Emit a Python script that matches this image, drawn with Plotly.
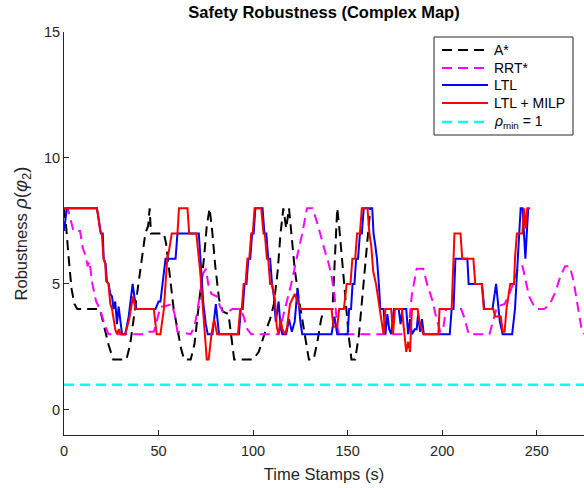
import plotly.graph_objects as go

# ---- data ----
astar_t = [0, 1, 2.5, 4, 5.5, 7, 19, 21, 23.5, 26, 33, 35, 37.5, 39.5, 41.5, 43, 44.5, 45.3, 46, 52.8,
           54, 56, 58, 60, 62, 63.5, 67, 69, 71, 72.5, 74, 75.5, 77, 78.5, 80, 82, 84, 87, 88.5, 90,
           100, 103, 106, 109, 111, 113, 114.5, 116, 117.5, 119, 120.5, 122, 124, 126, 128, 129.5, 132,
           134, 136, 137.5, 142, 143.3, 144.5, 145.5, 147, 148.5, 150.5, 152, 154, 156, 158, 160, 162]
astar_v = [8, 7.4, 6, 4.8, 4.2, 4, 4, 3.4, 2.6, 2, 2, 2.6, 4, 5.2, 6.3, 7, 7.3, 8, 7, 7,
           6.6, 5.2, 4, 3.2, 2.4, 2, 2, 2.6, 4, 4.8, 6, 7.3, 8, 7, 5.7, 4.4, 3.9, 3.8, 3, 2,
           2, 2.3, 3, 3.6, 4.2, 5.5, 7, 8, 7.2, 8, 6.8, 5.6, 4.5, 3.6, 2.6, 2, 2,
           2.7, 3.6, 4, 4, 6, 8, 7.3, 6, 4.5, 3, 2, 2, 3, 4.6, 6.3, 8]

rrt_t = [0, 2, 5, 8.5, 10, 11.5, 12.5, 13.5, 15, 17, 19, 21, 23.5, 42, 44, 47.5, 49, 51, 53, 57,
         58.5, 60, 67, 69, 70.5, 72, 73.5, 75, 76.5, 78, 81, 82.5, 84, 87, 89, 93.5, 95, 97, 99,
         113.5, 115.5, 118.5, 120.5, 123, 126, 128.5, 131.5, 134, 136, 138, 140, 141.5, 143, 144.5,
         145.5, 182, 184, 186.5, 190, 192, 195, 197, 199, 200.5, 202, 210, 212, 214, 225, 227, 229,
         233, 235, 237, 239, 240.5, 242.5, 244, 246, 248, 250, 254, 257, 260, 262.5, 265, 267.5,
         269.5, 271.5, 273.5, 275]
rrt_v = [8, 8, 7.1, 7.1, 6.4, 6.1, 5.7, 5.9, 5.0, 4.3, 4.0, 3.5, 3, 3, 3.1, 3.1, 3.5, 4.1, 4.1, 4.2,
         3.8, 3.1, 3, 3.3, 3.9, 4.7, 5.4, 5.6, 4.9, 4.6, 4.5, 4.1, 3.9, 3.9, 4.0, 4.0, 3.7, 3.2, 3,
         3, 3.6, 4.5, 5.1, 6, 7, 8, 8, 7.4, 6.8, 6.3, 5.8, 5.3, 4.6, 3.3,
         3, 3, 4.6, 5.6, 5.6, 5.0, 4.3, 3.6, 3.1, 3.2, 4, 4, 3.6, 3, 3, 3.6, 4.1,
         4.2, 4.5, 4.9, 5.4, 5.7, 5.7, 5.2, 4.5, 4.2, 4.0, 4.0, 4.2, 4.7, 5.3, 5.7, 5.7,
         5.1, 4.2, 3.3, 3.0]

ltl_t = [0, 1.5, 17.4, 18.3, 19.5, 20.5, 21, 22, 22.7, 23.6, 24.5, 25.4, 26.2, 27.1, 28, 28.9, 29.8,
         30.7, 32.4, 34.2, 35.5, 36.3, 37.2, 38.3, 48.4, 50, 51, 52.5, 53.7, 59, 60, 71.3, 72.5,
         73.7, 75, 76, 78.5, 80.3, 82, 92.5, 93.5, 94.5, 95.5, 96.5, 97.5, 98.5, 99.5, 100.3, 101.2,
         105, 106, 107, 108, 109, 110, 111, 112, 113.5, 114.5, 115.5, 117.5, 119, 120.5, 122, 123.5,
         125, 126, 141.5, 143, 144.5, 150, 150.8, 151.8, 152.6, 153.6, 154.5, 155.5, 156.5, 157.5,
         158.5, 163, 163.7, 164.7, 165.5, 166.5, 167.3, 169, 170, 171, 172, 173, 174.5, 177, 178,
         179, 181, 182, 183, 184, 185.5, 186.5, 187.3, 188.3, 189.3, 190.3, 204, 205, 206, 207,
         213.3, 214, 221, 222.3, 226.6, 228.5, 230.5, 232, 237, 238.5, 239.5, 240.5, 241.5, 242.5,
         244, 245.5]
ltl_v = [7.1, 8, 8, 7.5, 7, 7, 6, 5.8, 5.1, 5, 4.6, 4.5, 4, 4.3, 3.4, 4.1, 3.4,
         3, 3, 3.7, 4.5, 5.0, 4.5, 4, 4, 4.3, 4.3, 5.2, 6, 6, 7, 7, 5.5,
         4.2, 3.4, 3, 3, 4.2, 3, 3, 4, 4, 5, 5, 6, 6, 7, 7, 8,
         8, 7, 7, 6, 6, 5, 4.5, 3.5, 4.3, 3.3, 3, 3, 3.6, 3.1, 3.5, 4.8,
         3.5, 3, 3, 3.7, 3, 3, 4, 4, 5, 5, 6, 6, 7, 7,
         8, 8, 7, 6.5, 6, 5, 4, 4, 3, 3.8, 3.2, 3, 4, 4, 3.4,
         4, 4, 3, 3.6, 3, 3.2, 3.2, 3.8, 3.1, 3.6, 3, 3, 4, 4, 6,
         6, 5, 5, 4, 4, 5, 3.5, 3, 3, 4, 5.5, 7, 8, 8,
         6, 8]

milp_t = [0, 17.4, 18.3, 19.1, 20, 20.9, 21.8, 22.3, 23.5, 24.5, 25.4, 26.2, 27.1, 28, 29, 30, 32.4,
          34.5, 36.5, 37.8, 47.5, 49, 51, 52.8, 54.6, 55.5, 57, 60, 60.8, 65.3, 66.2, 70, 72, 73.5,
          74.5, 75.5, 76.5, 78, 79.4, 81, 92, 93.2, 94, 95, 96, 97, 98, 99, 99.8, 100.8, 104.3,
          105.5, 106.2, 107.3, 108, 109, 110, 111.5, 112.5, 113.5, 114.5, 115.5, 117, 118, 119.5,
          122, 123.5, 125, 141.5, 142.5, 144.5, 145.5, 148, 149.5, 151.5, 152.5, 154, 155, 156.5,
          157.5, 160.5, 161.5, 162.5, 163.5, 165, 166, 167, 168, 169, 170, 173, 174, 175, 178.7,
          180, 181, 182, 183, 184, 187, 188, 189, 190, 198, 198.6, 205, 206.5, 209.7, 210.6, 216.5,
          217.5, 221, 222, 227, 228, 231, 232, 233, 234, 236, 238, 238.5, 239.5, 242.4, 243.3, 244,
          245, 246.5]
milp_v = [8, 8, 7.6, 7.1, 7, 6, 5.8, 5.1, 5, 4.2, 4, 3.6, 3.2, 3, 3.2, 3, 3,
          3.6, 4.5, 4, 4, 3, 3, 4, 6, 6.3, 7, 7, 8, 8, 7, 7, 5.5, 4,
          3, 2, 2, 3, 3.6, 3, 3, 4, 4, 5, 5, 6, 6, 7, 7, 8, 8,
          7, 7, 6, 6, 5, 5, 4.4, 3.3, 3, 3.6, 3.2, 3, 3.3, 4.2,
          4.6, 4.3, 4, 4, 3.3, 3.3, 4, 4, 5, 5, 6, 6, 7, 7,
          8, 8, 7, 6.5, 5.5, 5, 4.5, 4, 3.5, 3, 4, 4, 3, 4, 4,
          3, 2.3, 2.7, 2.3, 4, 4, 3.5, 3.2, 3, 3, 4, 4, 7, 7, 6, 6,
          5, 5, 4, 4, 3.7, 3.7, 3.1, 3.1, 4, 5, 5, 6, 7, 7, 8, 7.2,
          8, 8]

rho_t = [0, 275]
rho_v = [1, 1]

x_ticks = [0, 50, 100, 150, 200, 250]
y_ticks = [0, 5, 10, 15]

series_names = ["A*", "RRT*", "LTL", "LTL + MILP", "<i>ρ</i><sub>min</sub> = 1"]
series_colors = ["#000000", "#FF00FF", "#0000FF", "#FF0000", "#00FFFF"]
series_dash = ["10px,6px", "10px,6px", "solid", "solid", "10px,6px"]
series_width = [2, 2, 2, 2, 2.5]
series_data = [(astar_t, astar_v), (rrt_t, rrt_v), (ltl_t, ltl_v), (milp_t, milp_v), (rho_t, rho_v)]

FONT = "Liberation Sans, Arial, sans-serif"
AX = "#262626"

W, H = 584, 488
ML, MR, MT, MB = 64, 0, 32, 53
PW, PH = W - ML - MR, H - MT - MB


def px_to_paper(fx, fy):
    return (fx - ML) / PW, 1 - (fy - MT) / PH


fig = go.Figure()
for (t, v), name, col, dash, wd in zip(series_data, series_names, series_colors, series_dash, series_width):
    fig.add_trace(go.Scatter(x=t, y=v, mode="lines", name=name, showlegend=False, hoverinfo="skip",
                             line=dict(color=col, width=wd, dash=dash)))

# legend box drawn manually (MATLAB style)
shapes = []
annotations = []
bx0, by1 = px_to_paper(434, 37)
bx1, by0 = px_to_paper(573, 135)
shapes.append(dict(type="rect", xref="paper", yref="paper", x0=bx0, x1=bx1, y0=by0, y1=by1,
                   line=dict(color=AX, width=1), fillcolor="white", layer="above"))
row_y = [50, 68, 85, 103, 122]
for fy, name, col, dash, wd in zip(row_y, series_names, series_colors, series_dash, series_width):
    lx0, ly = px_to_paper(442, fy)
    lx1, _ = px_to_paper(488, fy)
    tx, _ = px_to_paper(492, fy)
    shapes.append(dict(type="line", xref="paper", yref="paper", x0=lx0, x1=lx1, y0=ly, y1=ly,
                       line=dict(color=col, width=wd, dash=dash), layer="above"))
    annotations.append(dict(text=name, xref="paper", yref="paper", x=tx, y=ly, xanchor="left",
                            yanchor="middle", showarrow=False,
                            font=dict(family=FONT, size=14, color="#000000")))

fig.update_layout(
    width=W, height=H,
    margin=dict(l=ML, r=MR, t=MT, b=MB),
    paper_bgcolor="white", plot_bgcolor="white",
    font=dict(family=FONT, color=AX, size=14),
    title=dict(text="<b>Safety Robustness (Complex Map)</b>", x=0.5, xref="paper",
               y=1 - 12 / H, yanchor="middle", xanchor="center",
               font=dict(family=FONT, size=16.5, color="#000000")),
    showlegend=False,
    hovermode=False,
    shapes=shapes,
    annotations=annotations,
    xaxis=dict(range=[0, 275], tickvals=x_ticks, ticks="inside", ticklen=5, tickcolor=AX,
               showline=True, linecolor=AX, linewidth=1, showgrid=False, zeroline=False,
               tickfont=dict(size=14.5, color=AX), ticklabelstandoff=3,
               title=dict(text="Time Stamps (s)", font=dict(size=16.5, color=AX), standoff=10)),
    yaxis=dict(range=[-1, 15], tickvals=y_ticks, ticks="inside", ticklen=5, tickcolor=AX,
               showline=True, linecolor=AX, linewidth=1, showgrid=False, zeroline=False,
               tickfont=dict(size=14.5, color=AX),
               title=dict(text="Robustness <span style='font-size:18.5px'><i>ρ</i>(<i>φ</i><sub>2</sub>)</span>",
                          font=dict(size=16.5, color=AX), standoff=12)),
)

fig.write_html("out.html", config={"displayModeBar": False, "staticPlot": True},
               post_script="document.body.style.margin='0';document.body.style.overflow='hidden';")
